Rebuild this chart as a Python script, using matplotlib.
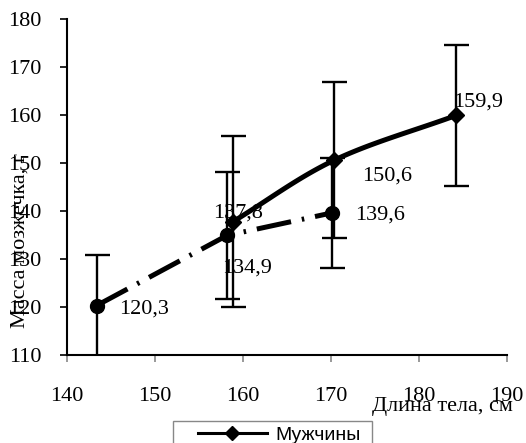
import numpy as np
import matplotlib
matplotlib.use("Agg")
import matplotlib.pyplot as plt
from matplotlib.legend_handler import HandlerLine2D

# ---- data ----
men_x = [158.9, 170.4, 184.2]
men_y = [137.8, 150.6, 159.9]
men_err = [17.8, 16.3, 14.7]
men_labels = ["137,8", "150,6", "159,9"]

women_x = [143.4, 158.2, 170.1]
women_y = [120.3, 134.9, 139.6]
women_err = [10.5, 13.2, 11.4]
women_labels = ["120,3", "134,9", "139,6"]

x_ticks = [140, 150, 160, 170, 180, 190]
y_ticks = [110, 120, 130, 140, 150, 160, 170, 180]

serif = "Liberation Serif"
fs = 16

fig = plt.figure(figsize=(5.26, 4.43), dpi=100)
ax = fig.add_axes([66.7 / 526, 1 - 355 / 443, (507 - 66.7) / 526, (355 - 19) / 443])


def catmull_rom(xs, ys, n=40):
    pts = np.column_stack([xs, ys]).astype(float)
    p = np.vstack([2 * pts[0] - pts[1], pts, 2 * pts[-1] - pts[-2]])
    out = []
    for i in range(1, len(p) - 2):
        p0, p1, p2, p3 = p[i - 1], p[i], p[i + 1], p[i + 2]
        t = np.linspace(0, 1, n)[:, None]
        seg = 0.5 * ((2 * p1) + (-p0 + p2) * t + (2 * p0 - 5 * p1 + 4 * p2 - p3) * t ** 2
                     + (-p0 + 3 * p1 - 3 * p2 + p3) * t ** 3)
        out.append(seg)
    c = np.vstack(out)
    return c[:, 0], c[:, 1]


# women: dash-dot line with circles
ax.errorbar(women_x, women_y, yerr=women_err, fmt="none", ecolor="black",
            elinewidth=1.7, capsize=9, capthick=1.7, zorder=3)
ax.plot(women_x, women_y, color="black", lw=3.6, dashes=(7, 2.2, 0.5, 2.2),
        solid_capstyle="butt", dash_capstyle="butt", zorder=4)
ax.plot(women_x, women_y, "o", color="black", ms=10, zorder=5)

# men: smoothed solid line with diamonds
ax.errorbar(men_x, men_y, yerr=men_err, fmt="none", ecolor="black",
            elinewidth=1.7, capsize=9, capthick=1.7, zorder=3)
sx, sy = catmull_rom(men_x, men_y)
ax.plot(sx, sy, color="black", lw=3.6, zorder=4)
ax.plot(men_x, men_y, "D", color="black", ms=8, zorder=5)

# data labels
women_off = [(16, -1), (-3.6, -21.6), (16.6, 0)]
men_off = [(-14.4, 7.9), (20, -10), (-2, 11.5)]
for x, y, t, o in zip(women_x, women_y, women_labels, women_off):
    ax.annotate(t, (x, y), xytext=o, textcoords="offset points", ha="left",
                va="center_baseline", fontsize=fs, family=serif, zorder=6)
for x, y, t, o in zip(men_x, men_y, men_labels, men_off):
    ax.annotate(t, (x, y), xytext=o, textcoords="offset points", ha="left",
                va="center_baseline", fontsize=fs, family=serif, zorder=6)

ax.set_xlim(140, 190)
ax.set_ylim(110, 180)
ax.set_xticks(x_ticks)
ax.set_yticks(y_ticks)
ax.set_xticklabels([str(v) for v in x_ticks], family=serif, fontsize=fs)
ax.set_yticklabels([str(v) for v in y_ticks], family=serif, fontsize=fs)
ax.tick_params(axis="y", direction="out", length=5, width=1.2, pad=13, color="black")
ax.tick_params(axis="x", direction="out", length=5, width=1.2, pad=18, color="#888888")
for s in ["top", "right"]:
    ax.spines[s].set_visible(False)
ax.spines["left"].set_linewidth(1.5)
ax.spines["bottom"].set_linewidth(1.5)

fig.text(20 / 526, 1 - 241 / 443, "Масса мозжечка, г", rotation=90, ha="center",
         va="center", family=serif, fontsize=fs)
fig.text(513 / 526, 1 - 407 / 443, "Длина тела, см", ha="right", va="center",
         family=serif, fontsize=fs)


# legend (second entry falls outside the figure as in the reference)
class ShiftHandler(HandlerLine2D):
    def __init__(self, shift, **kw):
        super().__init__(**kw)
        self.shift = shift

    def create_artists(self, legend, orig_handle, xdescent, ydescent, width, height, fontsize, trans):
        s = self.shift * fontsize
        return super().create_artists(legend, orig_handle, xdescent - s, ydescent,
                                      width - s, height, fontsize, trans)


lfs = 14
h_men, = ax.plot([], [], "-", color="black", lw=2.2, marker="D", ms=7)
h_wom, = ax.plot([], [], color="black", lw=2.2, dashes=(6, 2, 1, 2), marker="o", ms=7)
leg = fig.legend([h_men, h_wom], ["Мужчины", "Женщины"], loc="upper left",
                 bbox_to_anchor=(172.7 / 526, 1 - 421 / 443), borderaxespad=0,
                 prop={"family": "Liberation Sans", "size": lfs},
                 handlelength=4.58, handletextpad=0.41, borderpad=0.27,
                 fancybox=False, framealpha=1, edgecolor="#888888", numpoints=1,
                 handler_map={h_men: ShiftHandler(1.03, numpoints=1),
                              h_wom: ShiftHandler(1.03, numpoints=1)})
leg.get_frame().set_linewidth(1.0)

fig.savefig("out.png", dpi=100)
